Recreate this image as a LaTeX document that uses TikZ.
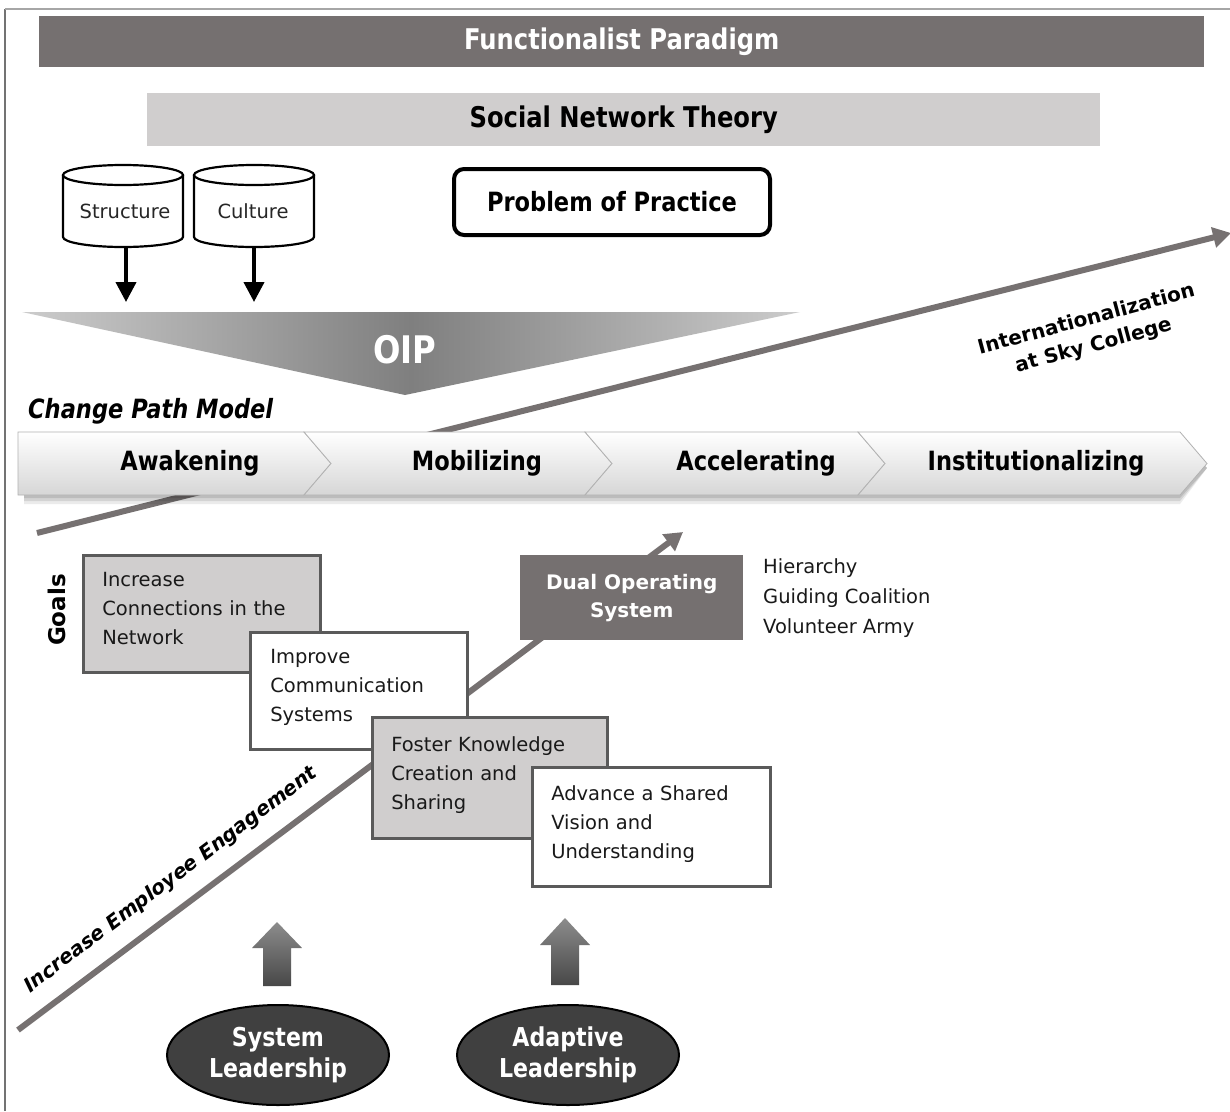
\documentclass[tikz,border=0pt]{standalone}
\usepackage{fontspec}
\setmainfont{DejaVu Sans}
\newfontfamily\cond[FakeStretch=0.85]{DejaVu Sans}
\usetikzlibrary{arrows.meta,shapes.geometric}
\definecolor{darkbar}{HTML}{757070}
\definecolor{lightbar}{HTML}{D0CECE}
\definecolor{linegray}{HTML}{767171}
\definecolor{boxborder}{HTML}{5A5A5A}
\definecolor{ellfill}{HTML}{404040}
\definecolor{oipside}{HTML}{CCCCCC}
\definecolor{oipmid}{HTML}{7F7F7F}
\tikzset{
  headfont/.style={font=\cond\bfseries\fontsize{28.5}{34}\selectfont},
  chevfont/.style={font=\cond\bfseries\fontsize{26.5}{32}\selectfont},
  bodyfont/.style={font=\fontsize{19.5}{29}\selectfont},
  goalbox/.style={draw=boxborder, line width=2.5pt, anchor=north west, align=left,
    inner xsep=19pt, inner ysep=0pt, text=black!90, bodyfont, text depth=68pt},
  chev/.style={draw=black!30, line width=0.8pt, top color=white, bottom color=black!16},
  bigline/.style={draw=linegray, line width=6pt, -{Triangle[length=18pt,width=20pt]}},
  downarrow/.style={draw=black, line width=4pt, -{Triangle[length=20pt,width=20pt]}},
  cyl/.style={draw=black, line width=2.2pt, fill=white},
  leader/.style={ellipse, draw=black, line width=2pt, fill=ellfill, text=white,
    minimum width=222pt, minimum height=100pt, inner sep=0pt, align=center,
    font=\cond\bfseries\fontsize{26}{31}\selectfont},
  uparrow/.style={top color=black!45, bottom color=black!72},
}
\begin{document}
\begin{tikzpicture}[x=1pt,y=-1pt]
\useasboundingbox (0,0) rectangle (1230,1111);
\fill[white] (0,0) rectangle (1230,1111);
% frame
\draw[black!55, line width=1.5pt] (5,1111) -- (5,9);
\draw[black!35, line width=1.5pt] (5,9) -- (1230,9);

% top bars
\node[fill=darkbar, minimum width=1165pt, minimum height=51pt, inner sep=0pt,
  anchor=north west, text=white, headfont] (fp) at (39,16) {Functionalist Paradigm};
\node[fill=lightbar, minimum width=953pt, minimum height=53pt, inner sep=0pt,
  anchor=north west, text=black, headfont] (snt) at (147,93) {Social Network Theory};

% cylinders
\draw[cyl] (63,175) -- (63,237) arc[start angle=180, end angle=0, x radius=60, y radius=10]
  -- (183,175);
\draw[cyl] (123,175) ellipse [x radius=60, y radius=10];
\draw[cyl] (194,175) -- (194,237) arc[start angle=180, end angle=0, x radius=60, y radius=10]
  -- (314,175);
\draw[cyl] (254,175) ellipse [x radius=60, y radius=10];
\node[bodyfont, text=black!85] (stru) at (125,211) {Structure};
\node[bodyfont, text=black!85] (cult) at (253,211) {Culture};
\coordinate (strub) at (126,248);
\coordinate (strut) at (126,302);
\coordinate (cultb) at (254,248);
\coordinate (cultt) at (254,302);
\draw[downarrow] (strub) -- (strut);
\draw[downarrow] (cultb) -- (cultt);

% problem of practice
\node[draw=black, line width=4pt, rounded corners=10pt, minimum width=316pt,
  minimum height=66pt, inner sep=0pt, font=\cond\bfseries\fontsize{26.5}{32}\selectfont]
  (pop) at (612,202) {Problem of Practice};

% OIP funnel
\shade[left color=oipside, right color=oipside, middle color=oipmid]
  (22,312) -- (800,312) -- (405,395) -- cycle;
\node[text=white, font=\cond\bfseries\fontsize{38}{44}\selectfont] (oip) at (405,350) {OIP};

% internationalization arrow (behind band)
\coordinate (ia) at (37,533);
\coordinate (ib) at (1231,233);
\draw[bigline] (ia) -- (ib);
\node[rotate=15, align=center, font=\bfseries\fontsize{20}{27}\selectfont]
  (intl) at (1090,333) {Internationalization\\at Sky College};

% change path model
\node[anchor=west, inner sep=0pt, font=\cond\bfseries\itshape\fontsize{26.5}{32}\selectfont]
  (cpm) at (28,411) {Change Path Model};

% band shadow
\foreach \o/\op in {3/0.10,6/0.10,9/0.08} {
  \fill[black, opacity=\op] (24,440) -- (1180,440) -- (1207,468) -- (1180,495+\o) -- (24,495+\o) -- cycle;
}
% chevrons
\path[chev] (18,432) -- (304,432) -- (331,463.5) -- (304,495) -- (18,495) -- cycle;
\path[chev] (304,432) -- (585,432) -- (612,463.5) -- (585,495) -- (304,495) -- (331,463.5) -- cycle;
\path[chev] (585,432) -- (858,432) -- (885,463.5) -- (858,495) -- (585,495) -- (612,463.5) -- cycle;
\path[chev] (858,432) -- (1180,432) -- (1207,463.5) -- (1180,495) -- (858,495) -- (885,463.5) -- cycle;
\node[chevfont] (awk) at (190,463) {Awakening};
\node[chevfont] (mob) at (477,463) {Mobilizing};
\node[chevfont] (acc) at (756,463) {Accelerating};
\node[chevfont] (ins) at (1036,463) {Institutionalizing};

% engagement line
\coordinate (ea) at (18,1030);
\coordinate (eb) at (683,532);
\draw[bigline] (ea) -- (eb);
\node[rotate=37, font=\bfseries\itshape\fontsize{20}{24}\selectfont]
  (eng) at (171,880) {Increase Employee Engagement};

% goals label
\node[rotate=90, font=\bfseries\fontsize{23}{28}\selectfont] (goals) at (57,610) {Goals};

% goal boxes
\node[goalbox, fill=lightbar, minimum width=237pt, minimum height=117pt, text width=199pt]
  (g1) at (82,554) {Increase\\Connections in the\\Network};
\node[goalbox, fill=white, minimum width=217pt, minimum height=117pt, text width=177pt]
  (g2) at (249,631) {Improve\\Communication\\Systems};
\node[goalbox, fill=lightbar, minimum width=235pt, minimum height=121pt, text width=197pt]
  (g3) at (371,716) {Foster Knowledge\\Creation and\\Sharing};
\node[goalbox, fill=white, minimum width=238pt, minimum height=119pt, text width=200pt]
  (g4) at (531,766) {Advance a Shared\\Vision and\\Understanding};

% dual operating system
\node[fill=darkbar, minimum width=223pt, minimum height=85pt, inner sep=0pt, anchor=north west,
  text=white, align=center, font=\bfseries\fontsize{20}{28}\selectfont]
  (dos) at (520,555) {Dual Operating\\System};
\node[anchor=west, align=left, inner sep=0pt, text=black!90, font=\fontsize{19.5}{30}\selectfont]
  (hier) at (763,598) {Hierarchy\\Guiding Coalition\\Volunteer Army};

% up arrows
\shade[uparrow] (277,922) -- (302,948) -- (291,948) -- (291,986) -- (263,986) -- (263,948) -- (252,948) -- cycle;
\shade[uparrow] (565,918) -- (590,945) -- (579,945) -- (579,985) -- (551,985) -- (551,945) -- (540,945) -- cycle;

% leadership ellipses
\node[leader] (sysl) at (278,1055) {System\\Leadership};
\node[leader] (adpl) at (568,1055) {Adaptive\\Leadership};
\end{tikzpicture}
\end{document}
